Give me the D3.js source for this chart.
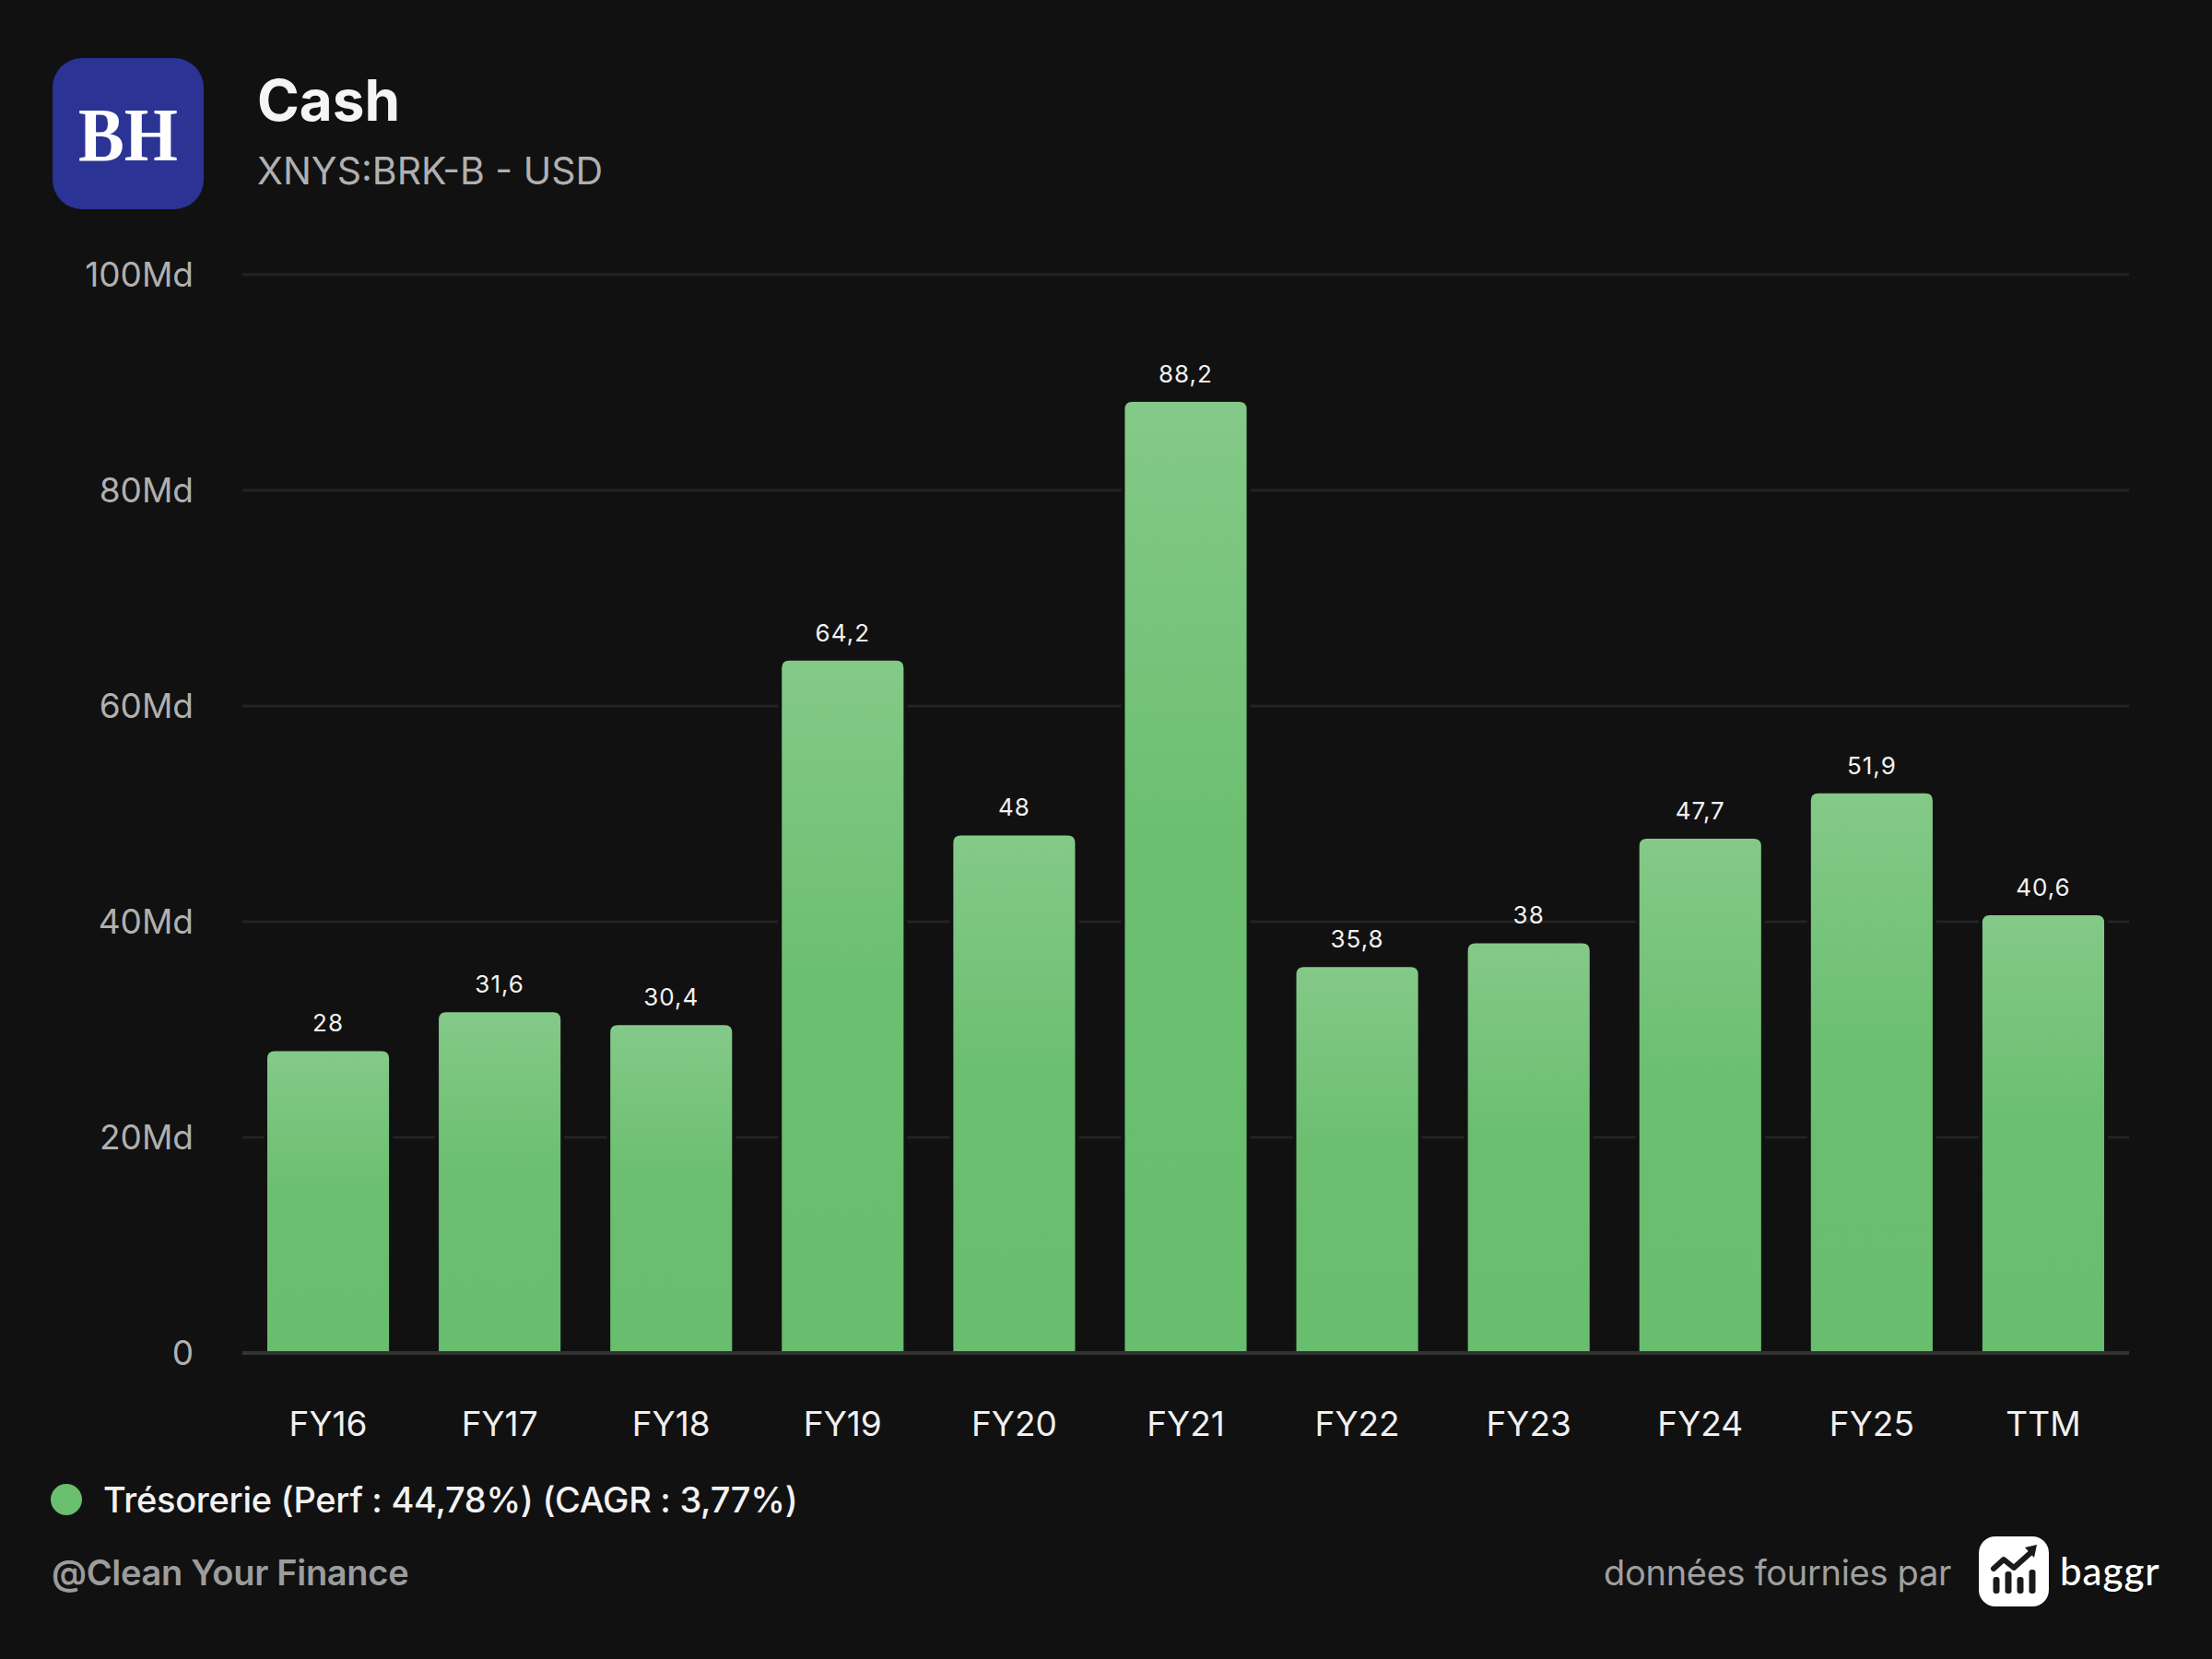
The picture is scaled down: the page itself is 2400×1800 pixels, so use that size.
<!DOCTYPE html>
<html>
<head>
<meta charset="utf-8">
<script src="https://cdn.jsdelivr.net/npm/d3@7"></script>
<style>
  html, body { margin: 0; padding: 0; background: #111111; }
  svg { display: block; font-family: Inter, "Noto Sans", sans-serif; }
</style>
</head>
<body>
<svg id="chart" width="2400" height="1800"></svg>
<script>
// data
var categories = ["FY16", "FY17", "FY18", "FY19", "FY20", "FY21", "FY22", "FY23", "FY24", "FY25", "TTM"];
var cashValues = [28, 31.6, 30.4, 64.2, 48, 88.2, 35.8, 38, 47.7, 51.9, 40.6];
var yTicks = [0, 20, 40, 60, 80, 100];
var legendLabel = "Trésorerie (Perf : 44,78%) (CAGR : 3,77%)";

var frLocale = d3.formatLocale({decimal: ",", thousands: " ", grouping: [3], currency: ["", " $"]});
var fmtValue = frLocale.format("~g");

var svg = d3.select("#chart");
svg.append("rect").attr("width", 2400).attr("height", 1800).attr("fill", "#111111");

// gradient for bars
var defs = svg.append("defs");
var grad = defs.append("linearGradient")
	.attr("id", "barGrad")
	.attr("x1", 0).attr("y1", 0).attr("x2", 0).attr("y2", 1);
grad.append("stop").attr("offset", "0%").attr("stop-color", "#84c988");
grad.append("stop").attr("offset", "45%").attr("stop-color", "#6cbf71");
grad.append("stop").attr("offset", "100%").attr("stop-color", "#69bd6e");

//scales
var x = d3.scaleBand()
	.domain(categories)
	.range([263, 2310])
	.paddingInner(0.29)
	.paddingOuter(0.145);

var y = d3.scaleLinear()
	.domain([0, 100])
	.range([1468, 298]);

//grid lines
svg.append("g")
	.selectAll("line")
	.data(yTicks.filter(function (d) { return d > 0; }))
	.enter().append("line")
	.attr("x1", 263).attr("x2", 2310)
	.attr("y1", function (d) { return y(d); })
	.attr("y2", function (d) { return y(d); })
	.attr("stroke", "#232323")
	.attr("stroke-width", 3);

//y axis
var yAxis = svg.append("g")
	.attr("transform", "translate(210,0)")
	.call(d3.axisLeft(y)
		.tickValues(yTicks)
		.tickSize(0)
		.tickPadding(0)
		.tickFormat(function (d) { return d === 0 ? "0" : d + "Md"; }));
yAxis.select(".domain").remove();
yAxis.selectAll("text")
	.attr("fill", "#b0b0b0")
	.attr("font-size", 37)
	.attr("font-family", "Inter, sans-serif")
	.attr("dy", "0.35em");

//bars
var rad = 8;
function barPath(d) {
	var x0 = x(d.cat), w = x.bandwidth(), y0 = y(d.val), yb = y(0);
	return "M" + x0 + "," + yb +
		"V" + (y0 + rad) +
		"Q" + x0 + "," + y0 + " " + (x0 + rad) + "," + y0 +
		"H" + (x0 + w - rad) +
		"Q" + (x0 + w) + "," + y0 + " " + (x0 + w) + "," + (y0 + rad) +
		"V" + yb + "Z";
}

var barData = categories.map(function (c, i) { return {cat: c, val: cashValues[i]}; });

svg.append("g")
	.selectAll("path")
	.data(barData)
	.enter().append("path")
	.attr("d", barPath)
	.attr("fill", "url(#barGrad)")
	.attr("stroke", "#111111")
	.attr("stroke-width", 8)
	.attr("paint-order", "stroke");

//baseline
svg.append("line")
	.attr("x1", 263).attr("x2", 2310)
	.attr("y1", y(0)).attr("y2", y(0))
	.attr("stroke", "#333333")
	.attr("stroke-width", 4);

//value labels
svg.append("g")
	.selectAll("text")
	.data(barData)
	.enter().append("text")
	.attr("x", function (d) { return x(d.cat) + x.bandwidth() / 2; })
	.attr("y", function (d) { return y(d.val) - 21; })
	.attr("text-anchor", "middle")
	.attr("fill", "#f2f2f2")
	.attr("font-size", 26)
	.attr("letter-spacing", 1)
	.text(function (d) { return fmtValue(d.val); });

//x labels
var xAxis = svg.append("g")
	.attr("transform", "translate(0," + 1545 + ")")
	.call(d3.axisBottom(x).tickSize(0).tickPadding(0));
xAxis.select(".domain").remove();
xAxis.selectAll("text")
	.attr("fill", "#f0f0f0")
	.attr("font-size", 37)
	.attr("font-family", "Inter, sans-serif")
	.attr("dy", "0.35em");

//header: logo
svg.append("rect")
	.attr("x", 57).attr("y", 63)
	.attr("width", 164).attr("height", 164)
	.attr("rx", 32)
	.attr("fill", "#2b3394");
svg.append("text")
	.attr("x", 139).attr("y", 174)
	.attr("text-anchor", "middle")
	.attr("fill", "#ffffff")
	.attr("font-family", "'Liberation Serif', 'DejaVu Serif', serif")
	.attr("font-weight", "bold")
	.attr("font-size", 82)
	.attr("textLength", 108)
	.attr("lengthAdjust", "spacingAndGlyphs")
	.text("BH");

svg.append("text")
	.attr("x", 279).attr("y", 131)
	.attr("fill", "#f5f5f5")
	.attr("font-size", 62)
	.attr("font-weight", "bold")
	.text("Cash");
svg.append("text")
	.attr("x", 279).attr("y", 200)
	.attr("fill", "#b0b0b0")
	.attr("font-size", 41)
	.text("XNYS:BRK-B - USD");

//legend
svg.append("circle")
	.attr("cx", 72).attr("cy", 1627).attr("r", 17)
	.attr("fill", "#6abf6f");
svg.append("text")
	.attr("x", 112).attr("y", 1641)
	.attr("fill", "#f2f2f2")
	.attr("font-size", 38)
	.attr("font-weight", 500)
	.attr("letter-spacing", -0.3)
	.text(legendLabel);

//footer
svg.append("text")
	.attr("x", 56).attr("y", 1720)
	.attr("fill", "#9c9c9c")
	.attr("font-size", 38)
	.attr("font-weight", 600)
	.attr("letter-spacing", -0.3)
	.text("@Clean Your Finance");
svg.append("text")
	.attr("x", 2117).attr("y", 1720)
	.attr("text-anchor", "end")
	.attr("fill", "#a0a0a0")
	.attr("font-size", 38)
	.attr("letter-spacing", -0.3)
	.text("données fournies par");

//baggr logo
var bl = svg.append("g").attr("transform", "translate(2147,1667)");
bl.append("rect")
	.attr("width", 76).attr("height", 76).attr("rx", 18)
	.attr("fill", "#ffffff");
var barsX = [19, 32, 45, 58];
var barsTop = [44, 38, 44, 36];
bl.selectAll("rect.ib")
	.data(barsX)
	.enter().append("rect")
	.attr("class", "ib")
	.attr("x", function (d) { return d - 3.5; })
	.attr("y", function (d, i) { return barsTop[i]; })
	.attr("width", 7)
	.attr("height", function (d, i) { return 62 - barsTop[i]; })
	.attr("rx", 3)
	.attr("fill", "#1a1a1a");
bl.append("polyline")
	.attr("points", "16,35 27,25 38,34 57,17")
	.attr("fill", "none")
	.attr("stroke", "#1a1a1a")
	.attr("stroke-width", 6)
	.attr("stroke-linejoin", "round")
	.attr("stroke-linecap", "round");
bl.append("path")
	.attr("d", "M50,12 L63,9 L60,23 Z")
	.attr("fill", "#1a1a1a");
svg.append("text")
	.attr("x", 2235).attr("y", 1720)
	.attr("fill", "#ffffff")
	.attr("font-size", 42)
	.attr("letter-spacing", 1)
	.attr("font-family", "Lato, Inter, sans-serif")
	.attr("font-weight", 500)
	.text("baggr");
</script>
</body>
</html>
